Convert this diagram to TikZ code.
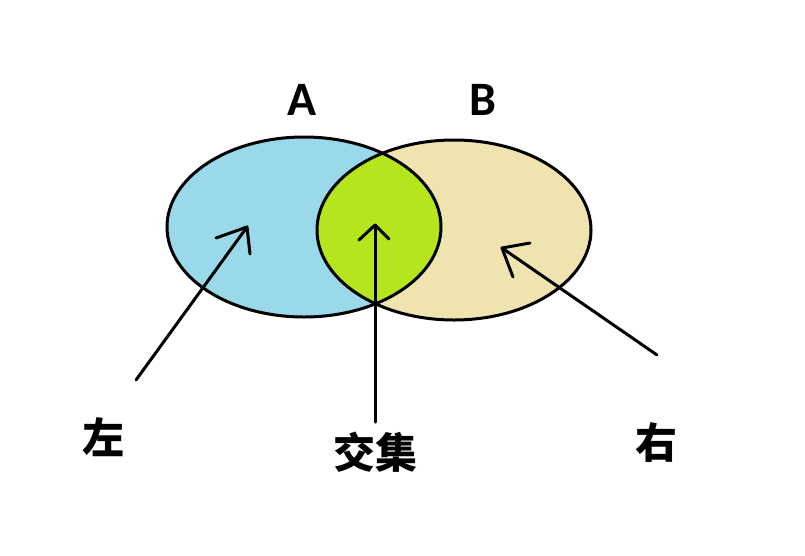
\documentclass[tikz,border=0pt]{standalone}
\usepackage{fontspec}
\setmainfont{Carlito}
\newfontfamily\cjk{Noto Sans CJK SC}
\definecolor{setA}{RGB}{153,217,234}
\definecolor{setB}{RGB}{239,228,176}
\definecolor{setAB}{RGB}{181,230,29}
\begin{document}
\begin{tikzpicture}[x=1pt,y=-1pt,
  outline/.style={line width=3pt},
  setlabel/.style={font=\fontsize{48}{48}\selectfont\bfseries, inner sep=0pt},
  cnlabel/.style={font=\fontsize{42}{42}\selectfont\cjk\bfseries, inner sep=0pt},
  pointer/.style={line width=3pt, line cap=round, line join=round}]
\useasboundingbox (0,0) rectangle (805,555);
\fill[white] (0,0) rectangle (805,555);
% sets
\fill[setA] (304,227) ellipse [x radius=137, y radius=90];
\fill[setB] (454,230) ellipse [x radius=137, y radius=90];
\begin{scope}
  \clip (304,227) ellipse [x radius=137, y radius=90];
  \fill[setAB] (454,230) ellipse [x radius=137, y radius=90];
\end{scope}
\draw[outline] (304,227) ellipse [x radius=137, y radius=90];
\draw[outline] (454,230) ellipse [x radius=137, y radius=90];
% labels
\node[setlabel] (A) at (302,100) {A};
\node[setlabel] (B) at (483,100) {B};
\node[cnlabel] (left) at (103,437) {左};
\node[cnlabel] (inter) at (375,452) {交集};
\node[cnlabel] (right) at (656,443) {右};
% arrow ends
\coordinate (lt) at (136,380);
\coordinate (lh) at (247,227);
\coordinate (lb1) at (216,238);
\coordinate (lb2) at (250,254);
\coordinate (it) at (375,422);
\coordinate (ih) at (375,225);
\coordinate (ib1) at (359,240);
\coordinate (ib2) at (389,239);
\coordinate (rt) at (657,355);
\coordinate (rh) at (502,248);
\coordinate (rb1) at (530,243);
\coordinate (rb2) at (513,277);
\draw[pointer] (lt) -- (lh);
\draw[pointer] (lb1) -- (lh) -- (lb2);
\draw[pointer] (it) -- (ih);
\draw[pointer] (ib1) -- (ih) -- (ib2);
\draw[pointer] (rt) -- (rh);
\draw[pointer] (rb1) -- (rh) -- (rb2);
\end{tikzpicture}
\end{document}
